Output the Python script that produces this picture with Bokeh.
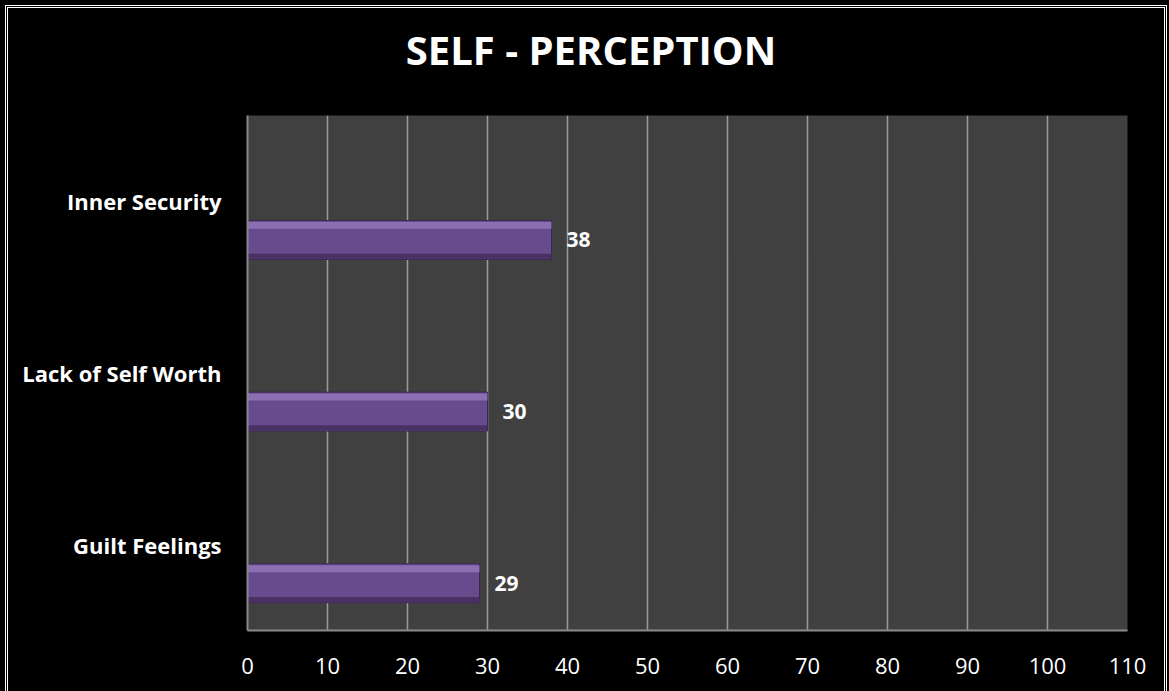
from bokeh.plotting import figure
from bokeh.layouts import column
from bokeh.models import ColumnDataSource, FactorRange, Range1d, FixedTicker, Div
from bokeh.transform import dodge
from bokeh.core.properties import value
from bokeh.embed import file_html
from bokeh.resources import INLINE

title_text = "SELF - PERCEPTION"
categories = ["Guilt Feelings", "Lack of Self Worth", "Inner Security"]
scores = [29, 30, 38]
x_ticks = [0, 10, 20, 30, 40, 50, 60, 70, 80, 90, 100, 110]

src = ColumnDataSource(data=dict(cat=categories, val=scores, lab=[str(v) for v in scores]))

W = 1156
TITLE_H = 84
H = 683 - TITLE_H

title = Div(text=title_text, width=W, height=TITLE_H, margin=(0, 0, 0, 0),
            styles={"text-align": "center", "color": "white", "font-family": "Open Sans",
                    "font-weight": "bold", "font-size": "40px", "line-height": f"{TITLE_H}px",
                    "text-indent": "10px", "background-color": "black"})

p = figure(width=W, height=H, output_backend="svg", toolbar_location=None,
           y_range=FactorRange(factors=categories), x_range=Range1d(0, 110),
           min_border_left=239, min_border_right=37, min_border_top=107 - TITLE_H,
           min_border_bottom=61)

p.background_fill_color = "#404040"
p.border_fill_color = "black"
p.outline_line_color = None

# bars with bevel look
off = -0.225
p.hbar(y=dodge("cat", off, range=p.y_range), left=0, right="val", height=0.227, source=src,
       fill_color="#684b8d", line_color="#3a2a50", line_width=1)
p.hbar(y=dodge("cat", off + 0.085, range=p.y_range), left=0, right="val", height=0.04, source=src,
       fill_color="#9b7fc3", line_color=None, fill_alpha=0.7)
p.hbar(y=dodge("cat", off - 0.095, range=p.y_range), left=0, right="val", height=0.03, source=src,
       fill_color="#45305f", line_color=None, fill_alpha=0.9)

p.text(x="val", y=dodge("cat", off, range=p.y_range), text="lab", source=src,
       x_offset=15, text_baseline="middle", text_align="left", text_color="white",
       text_font=value("Open Sans"), text_font_style="bold", text_font_size="21px")

# axes
p.xaxis.ticker = FixedTicker(ticks=x_ticks)
p.xaxis.major_tick_line_color = None
p.xaxis.minor_tick_line_color = None
p.xaxis.axis_line_color = "#8a8a8a"
p.xaxis.axis_line_width = 2
p.xaxis.major_label_text_color = "white"
p.xaxis.major_label_text_font = "Open Sans"
p.xaxis.major_label_text_font_size = "22px"
p.xaxis.major_label_standoff = 21

p.yaxis.major_tick_line_color = None
p.yaxis.minor_tick_line_color = None
p.yaxis.axis_line_color = "#8a8a8a"
p.yaxis.axis_line_width = 2
p.yaxis.major_label_text_color = "white"
p.yaxis.major_label_text_font = "Open Sans"
p.yaxis.major_label_text_font_style = "bold"
p.yaxis.major_label_text_font_size = "22px"
p.yaxis.major_label_standoff = 20

p.xgrid.grid_line_color = "#9a9a9a"
p.xgrid.grid_line_width = 1.5
p.ygrid.grid_line_color = None

root = column(title, p, spacing=0,
              styles={"position": "absolute", "left": "5px", "top": "5px",
                      "border": "3px double white", "background-color": "black",
                      "box-shadow": "0 0 0 6px black"})

open("out.html", "w").write(file_html(root, INLINE))
